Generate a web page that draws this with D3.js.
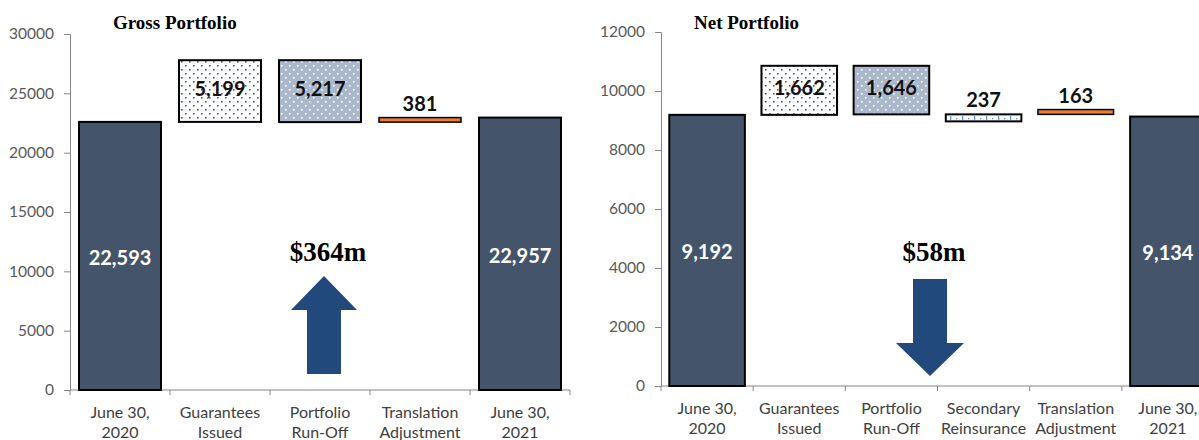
<!DOCTYPE html>
<html>
<head>
<meta charset="utf-8">
<script src="https://cdn.jsdelivr.net/npm/d3@7"></script>
<style>
  body { margin: 0; background: #fff; }
  svg { display: block; }
</style>
</head>
<body>
<div id="my_dataviz"></div>
<script>
// Gross portfolio
const grossCats = ["June 30,|2020", "Guarantees|Issued", "Portfolio|Run-Off", "Translation|Adjustment", "June 30,|2021"];
const grossBase = [0, 22593, 22575, 22575, 0];
const grossVals = [22593, 5199, 5217, 381, 22957];
const grossTicks = [0, 5000, 10000, 15000, 20000, 25000, 30000];

// Net portfolio
const netCats = ["June 30,|2020", "Guarantees|Issued", "Portfolio|Run-Off", "Secondary|Reinsurance", "Translation|Adjustment", "June 30,|2021"];
const netBase = [0, 9192, 9208, 8971, 9208, 0];
const netVals = [9192, 1662, 1646, 237, 163, 9134];
const netTicks = [0, 2000, 4000, 6000, 8000, 10000, 12000];

// kind of each bar: total, issued, runoff, reins, transl
const grossKinds = ["total", "issued", "runoff", "transl", "total"];
const netKinds = ["total", "issued", "runoff", "reins", "transl", "total"];

var svg = d3.select("#my_dataviz")
  .append("svg")
  .attr("width", 1199)
  .attr("height", 440);

var defs = svg.append("defs");

var p1 = defs.append("pattern").attr("id", "dotsDark")
  .attr("patternUnits", "userSpaceOnUse").attr("width", 8).attr("height", 8);
p1.append("rect").attr("width", 8).attr("height", 8).attr("fill", "#fff");
p1.append("rect").attr("x", 1).attr("y", 1).attr("width", 1.6).attr("height", 1.6).attr("fill", "#4a5d82");
p1.append("rect").attr("x", 5).attr("y", 5).attr("width", 1.6).attr("height", 1.6).attr("fill", "#4a5d82");

var p2 = defs.append("pattern").attr("id", "dotsGray")
  .attr("patternUnits", "userSpaceOnUse").attr("width", 8).attr("height", 8);
p2.append("rect").attr("width", 8).attr("height", 8).attr("fill", "#acb8cb");
p2.append("rect").attr("x", 1).attr("y", 1).attr("width", 1.6).attr("height", 1.6).attr("fill", "#fff");
p2.append("rect").attr("x", 5).attr("y", 5).attr("width", 1.6).attr("height", 1.6).attr("fill", "#fff");

var p3 = defs.append("pattern").attr("id", "reinsPat")
  .attr("patternUnits", "userSpaceOnUse").attr("width", 12).attr("height", 8);
p3.append("rect").attr("width", 12).attr("height", 8).attr("fill", "#fff");
p3.append("rect").attr("x", 2).attr("y", 4).attr("width", 1.3).attr("height", 4).attr("fill", "#5b9bd5");
p3.append("rect").attr("x", 8).attr("y", 6).attr("width", 1.3).attr("height", 1.3).attr("fill", "#5b9bd5");

var fills = {
  total: "#44546a",
  issued: "url(#dotsDark)",
  runoff: "url(#dotsGray)",
  reins: "url(#reinsPat)",
  transl: "#ed7d31"
};

function drawChart(opt) {
  var g = svg.append("g");

  var x = d3.scaleBand()
    .domain(opt.cats)
    .range([opt.x0, opt.x1])
    .paddingInner(0.18)
    .paddingOuter(0.09);

  var y = d3.scaleLinear().domain(opt.domain).range([opt.y0, opt.y1]);

  // Y axis
  var yAxis = g.append("g")
    .attr("transform", "translate(" + opt.x0 + ",0)")
    .call(d3.axisLeft(y).tickValues(opt.ticks).tickSize(6).tickPadding(10).tickFormat(d3.format("d")));
  yAxis.select(".domain").attr("stroke", "#868686");
  yAxis.selectAll(".tick line").attr("stroke", "#868686");
  yAxis.selectAll("text")
    .attr("fill", "#595959")
    .style("font-family", "Lato, 'Open Sans', sans-serif")
    .style("font-size", "15.5px");

  // X axis with ticks at band boundaries
  g.append("line")
    .attr("x1", opt.x0).attr("x2", opt.x1)
    .attr("y1", opt.y0).attr("y2", opt.y0)
    .attr("stroke", "#868686");
  var step = x.step();
  var bounds = d3.range(opt.cats.length + 1).map(function (i) { return opt.x0 + i * step; });
  g.selectAll("xtick")
    .data(bounds)
    .enter()
    .append("line")
    .attr("x1", function (d) { return d; })
    .attr("x2", function (d) { return d; })
    .attr("y1", opt.y0)
    .attr("y2", opt.y0 + 5)
    .attr("stroke", "#868686");

  var labels = g.selectAll("xlab")
    .data(opt.cats)
    .enter()
    .append("text")
    .attr("x", function (d) { return x(d) + x.bandwidth() / 2; })
    .attr("y", opt.y0 + 28)
    .attr("text-anchor", "middle")
    .attr("fill", "#404040")
    .style("font-family", "Lato, 'Open Sans', sans-serif")
    .style("font-size", "16px");
  labels.each(function (d) {
    var parts = d.split("|");
    var t = d3.select(this);
    parts.forEach(function (p, i) {
      t.append("tspan")
        .attr("x", x(d) + x.bandwidth() / 2)
        .attr("dy", i === 0 ? 0 : 20)
        .text(p);
    });
  });

  // Bars
  g.selectAll("mybar")
    .data(opt.cats)
    .enter()
    .append("rect")
    .attr("x", function (d) { return x(d); })
    .attr("y", function (d, i) { return y(opt.base[i] + opt.vals[i]); })
    .attr("width", x.bandwidth())
    .attr("height", function (d, i) { return y(opt.base[i]) - y(opt.base[i] + opt.vals[i]); })
    .attr("fill", function (d, i) { return fills[opt.kinds[i]]; })
    .attr("stroke", "#000")
    .attr("stroke-width", function (d, i) { return opt.kinds[i] === "transl" ? 1.5 : 2; });

  // Value labels
  g.selectAll("vlab")
    .data(opt.cats)
    .enter()
    .append("text")
    .attr("x", function (d) { return x(d) + x.bandwidth() / 2; })
    .attr("y", function (d, i) {
      var top = y(opt.base[i] + opt.vals[i]);
      var bot = y(opt.base[i]);
      if (bot - top > 30) return (top + bot) / 2 + (opt.kinds[i] === "total" ? 1 : -3);
      return top - 15;
    })
    .attr("dominant-baseline", "central")
    .attr("text-anchor", "middle")
    .attr("fill", function (d, i) { return opt.kinds[i] === "total" ? "#fff" : "#111"; })
    .style("font-family", "Lato, 'Open Sans', sans-serif")
    .style("font-weight", "bold")
    .style("font-size", "20px")
    .text(function (d, i) { return d3.format(",")(opt.vals[i]); });

  // Title
  g.append("text")
    .attr("x", opt.titleX)
    .attr("y", 29)
    .attr("fill", "#000")
    .style("font-family", "'Liberation Serif', 'Times New Roman', serif")
    .style("font-weight", "bold")
    .style("font-size", "19px")
    .text(opt.title);

  // Change annotation
  g.append("text")
    .attr("x", opt.noteX)
    .attr("y", 261)
    .attr("text-anchor", "middle")
    .attr("fill", "#000")
    .style("font-family", "'Liberation Serif', 'Times New Roman', serif")
    .style("font-weight", "bold")
    .style("font-size", "27px")
    .text(opt.note);

  var a = opt.arrow;
  var pts = [[a.cx, a.tip], [a.cx + a.hw, a.neck], [a.cx + a.sw, a.neck], [a.cx + a.sw, a.end],
             [a.cx - a.sw, a.end], [a.cx - a.sw, a.neck], [a.cx - a.hw, a.neck]];
  g.append("polygon")
    .attr("points", pts.map(function (p) { return p.join(","); }).join(" "))
    .attr("fill", "#22497c");
}

drawChart({
  cats: grossCats, base: grossBase, vals: grossVals, kinds: grossKinds, ticks: grossTicks,
  domain: [0, 30000], x0: 70, x1: 570, y0: 390, y1: 34,
  title: "Gross Portfolio", titleX: 113,
  note: "$364m", noteX: 328,
  arrow: { cx: 324, tip: 276, neck: 310, end: 374, hw: 33, sw: 17 }
});

drawChart({
  cats: netCats, base: netBase, vals: netVals, kinds: netKinds, ticks: netTicks,
  domain: [0, 12000], x0: 661, x1: 1214, y0: 386, y1: 32,
  title: "Net Portfolio", titleX: 694,
  note: "$58m", noteX: 934,
  arrow: { cx: 930, tip: 376, neck: 343, end: 279, hw: 34, sw: 17 }
});
</script>
</body>
</html>
